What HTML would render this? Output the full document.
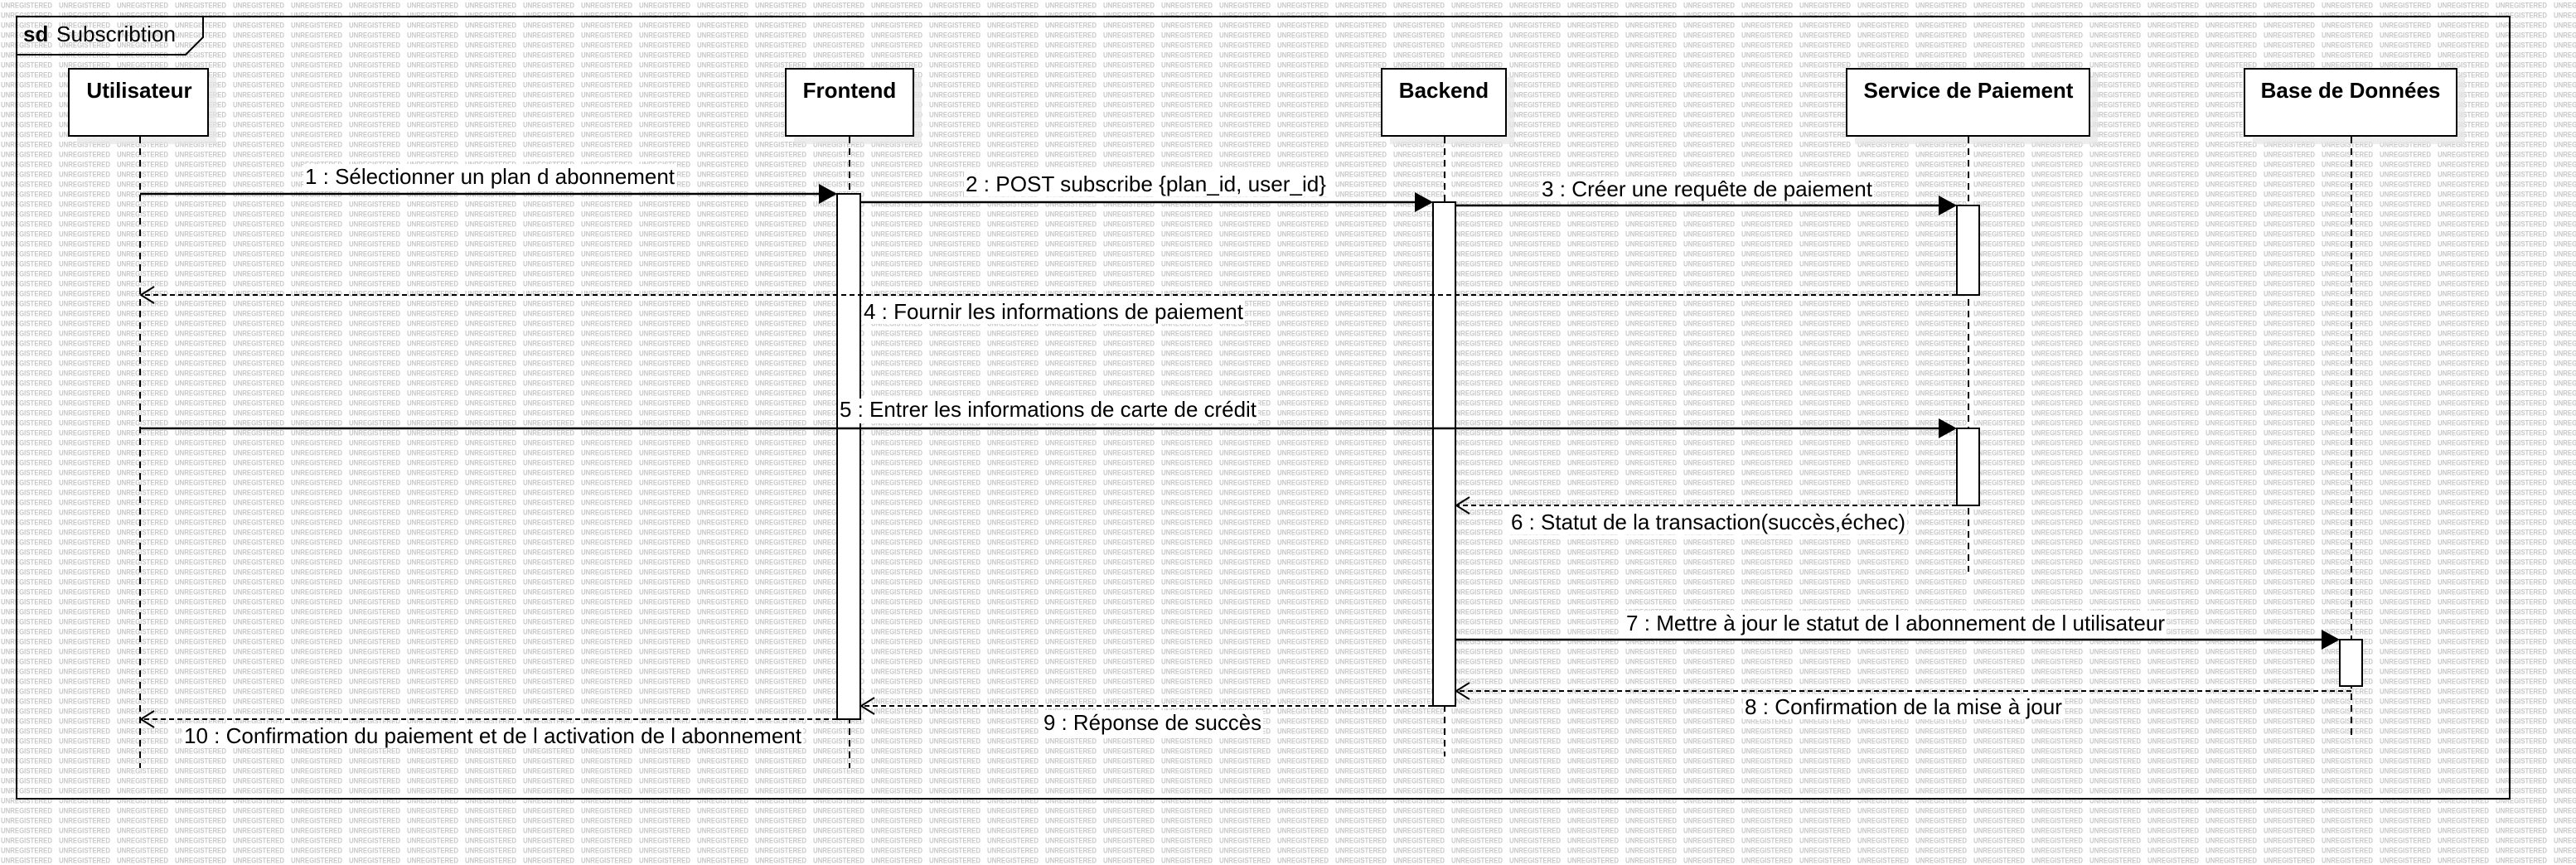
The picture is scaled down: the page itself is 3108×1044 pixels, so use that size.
<!DOCTYPE html>
<html><head><meta charset="utf-8"><style>
html,body{margin:0;padding:0;background:#fff;}
svg{display:block;}
text{font-family:"Liberation Sans",Arial,sans-serif;}
</style></head><body>
<svg width="3108" height="1044" viewBox="0 0 3108 1044" xmlns="http://www.w3.org/2000/svg">
<defs>
<pattern id="wm" x="0" y="0" width="70" height="12" patternUnits="userSpaceOnUse">
<text x="1" y="9.5" font-size="9.5" font-weight="bold" fill="#c8c8c8" textLength="62" lengthAdjust="spacingAndGlyphs">UNREGISTERED</text>
</pattern>
</defs>
<rect width="3108" height="1044" fill="#fff"/>
<rect width="3108" height="1044" fill="url(#wm)"/>

<g fill="none" stroke="#000" stroke-width="2">
<rect x="20" y="20" width="3008" height="944"/>
<path d="M20 66 H224 L245 45 V20"/>
</g>
<text x="28" y="50" font-size="26" font-weight="bold" fill="#000">sd</text>
<text x="68" y="50" font-size="26" fill="#000" textLength="144" lengthAdjust="spacingAndGlyphs">Subscribtion</text>

<g fill="#e6e6e6" opacity="0.7">
<rect x="93" y="93" width="168" height="81"/>
<rect x="958" y="93" width="154" height="81"/>
<rect x="1677" y="93" width="150" height="81"/>
<rect x="2238" y="93" width="293" height="81"/>
<rect x="2718" y="93" width="256" height="81"/>
</g>
<g fill="#fff" stroke="#000" stroke-width="2">
<rect x="83" y="83" width="168" height="81"/>
<rect x="948" y="83" width="154" height="81"/>
<rect x="1667" y="83" width="150" height="81"/>
<rect x="2228" y="83" width="293" height="81"/>
<rect x="2708" y="83" width="256" height="81"/>
</g>
<g font-size="26" font-weight="bold" text-anchor="middle" fill="#000">
<text x="168" y="118">Utilisateur</text>
<text x="1025" y="118">Frontend</text>
<text x="1742" y="118">Backend</text>
<text x="2375" y="118">Service de Paiement</text>
<text x="2836" y="118">Base de Données</text>
</g>

<g stroke="#000" stroke-width="2" stroke-dasharray="8,6">
<line x1="169" y1="165" x2="169" y2="927"/>
<line x1="1025" y1="165" x2="1025" y2="927"/>
<line x1="1743" y1="165" x2="1743" y2="913"/>
<line x1="2375" y1="165" x2="2375" y2="690"/>
<line x1="2837" y1="165" x2="2837" y2="892"/>
</g>

<g fill="#fff">
<rect x="366" y="198" width="450" height="30"/>
<rect x="1163" y="207" width="440" height="30"/>
<rect x="1858" y="213" width="403" height="30"/>
<rect x="1040" y="361" width="462" height="30"/>
<rect x="1821" y="615" width="480" height="30"/>
<rect x="1960" y="737" width="654" height="30"/>
<rect x="2103" y="838" width="387" height="30"/>
<rect x="1257" y="857" width="267" height="30"/>
<rect x="220" y="873" width="749" height="30"/>
</g>

<g fill="#fff" stroke="#000" stroke-width="2">
<rect x="1010" y="234" width="28" height="634"/>
<rect x="1729" y="244" width="27" height="608"/>
<rect x="2361" y="248" width="27" height="108"/>
<rect x="2361" y="517" width="27" height="93"/>
<rect x="2823" y="772" width="27" height="56"/>
</g>

<rect x="1011" y="481" width="507" height="30" fill="#fff"/>

<g stroke="#000" stroke-width="2.5">
<line x1="169" y1="234" x2="1000" y2="234"/>
<line x1="1038" y1="244" x2="1719" y2="244"/>
<line x1="1756" y1="248" x2="2351" y2="248"/>
<line x1="169" y1="517" x2="2351" y2="517"/>
<line x1="1756" y1="772" x2="2813" y2="772"/>
</g>
<g fill="#000">
<path d="M1010 234 L988 222 L988 246 Z"/>
<path d="M1729 244 L1707 232 L1707 256 Z"/>
<path d="M2361 248 L2339 236 L2339 260 Z"/>
<path d="M2361 517 L2339 505 L2339 529 Z"/>
<path d="M2823 772 L2801 760 L2801 784 Z"/>
</g>

<g stroke="#000" stroke-width="2" stroke-dasharray="6,4" fill="none">
<line x1="2361" y1="356" x2="171" y2="356"/>
<line x1="2361" y1="610" x2="1758" y2="610"/>
<line x1="2837" y1="834" x2="1758" y2="834"/>
<line x1="1729" y1="852" x2="1040" y2="852"/>
<line x1="1010" y1="868" x2="171" y2="868"/>
</g>
<g stroke="#000" stroke-width="2" fill="none">
<path d="M186 346 L170 356 L186 366"/>
<path d="M1773 600 L1757 610 L1773 620"/>
<path d="M1773 824 L1757 834 L1773 844"/>
<path d="M1055 842 L1039 852 L1055 862"/>
<path d="M186 858 L170 868 L186 878"/>
</g>

<g font-size="26" fill="#000">
<text x="368" y="222" textLength="446" lengthAdjust="spacingAndGlyphs">1 : Sélectionner un plan d abonnement</text>
<text x="1165" y="231" textLength="435" lengthAdjust="spacingAndGlyphs">2 : POST subscribe {plan_id, user_id}</text>
<text x="1860" y="237" textLength="399" lengthAdjust="spacingAndGlyphs">3 : Créer une requête de paiement</text>
<text x="1042" y="385" textLength="458" lengthAdjust="spacingAndGlyphs">4 : Fournir les informations de paiement</text>
<text x="1013" y="503" textLength="503" lengthAdjust="spacingAndGlyphs">5 : Entrer les informations de carte de crédit</text>
<text x="1823" y="639" textLength="476" lengthAdjust="spacingAndGlyphs">6 : Statut de la transaction(succès,échec)</text>
<text x="1962" y="761" textLength="650" lengthAdjust="spacingAndGlyphs">7 : Mettre à jour le statut de l abonnement de l utilisateur</text>
<text x="2105" y="862" textLength="383" lengthAdjust="spacingAndGlyphs">8 : Confirmation de la mise à jour</text>
<text x="1259" y="881" textLength="263" lengthAdjust="spacingAndGlyphs">9 : Réponse de succès</text>
<text x="222" y="897" textLength="745" lengthAdjust="spacingAndGlyphs">10 : Confirmation du paiement et de l activation de l abonnement</text>
</g>
</svg>
</body></html>
